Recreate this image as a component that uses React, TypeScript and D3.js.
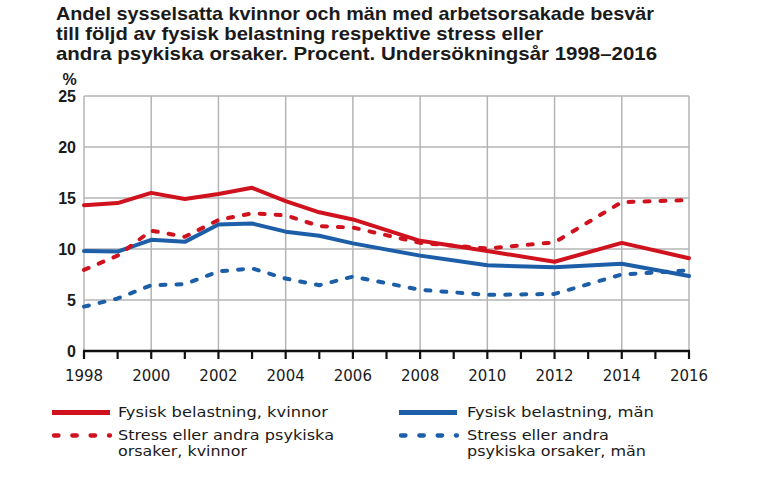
import React from "react";
import * as d3 from "d3";

const titleLines = [
  "Andel sysselsatta kvinnor och män med arbetsorsakade besvär",
  "till följd av fysisk belastning respektive stress eller",
  "andra psykiska orsaker. Procent. Undersökningsår 1998–2016",
];
const titleWidths = [598, 487, 601];

const years = [1998, 1999, 2000, 2001, 2002, 2003, 2004, 2005, 2006, 2008, 2010, 2012, 2014, 2016];
const fysiskKvinnor = [14.3, 14.5, 15.5, 14.9, 15.4, 16.0, 14.7, 13.6, 12.9, 10.8, 9.8, 8.75, 10.6, 9.1];
const fysiskMan = [9.8, 9.75, 10.9, 10.7, 12.4, 12.5, 11.7, 11.3, 10.55, 9.35, 8.4, 8.2, 8.55, 7.35];
const stressKvinnor = [7.95, 9.35, 11.8, 11.2, 12.85, 13.5, 13.3, 12.25, 12.1, 10.6, 10.05, 10.65, 14.6, 14.8];
const stressMan = [4.35, 5.15, 6.45, 6.55, 7.8, 8.1, 7.1, 6.45, 7.3, 6.0, 5.5, 5.6, 7.5, 7.9];

const yTicks = [0, 5, 10, 15, 20, 25];
const xLabelYears = [1998, 2000, 2002, 2004, 2006, 2008, 2010, 2012, 2014, 2016];
const tickYears = d3.range(1998, 2017);

const RED = "#d0121e";
const BLUE = "#1c5ea8";

const series = [
  { name: "Fysisk belastning, kvinnor", values: fysiskKvinnor, color: RED, dashed: false },
  { name: "Fysisk belastning, män", values: fysiskMan, color: BLUE, dashed: false },
  { name: "Stress eller andra psykiska orsaker, kvinnor", values: stressKvinnor, color: RED, dashed: true },
  { name: "Stress eller andra psykiska orsaker, män", values: stressMan, color: BLUE, dashed: true },
];

const legendItems = [
  { lines: ["Fysisk belastning, kvinnor"], widths: [210], color: RED, dashed: false, col: 0, row: 0 },
  { lines: ["Fysisk belastning, män"], widths: [187], color: BLUE, dashed: false, col: 1, row: 0 },
  { lines: ["Stress eller andra psykiska", "orsaker, kvinnor"], widths: [216, 129], color: RED, dashed: true, col: 0, row: 1 },
  { lines: ["Stress eller andra", "psykiska orsaker, män"], widths: [142, 179], color: BLUE, dashed: true, col: 1, row: 1 },
];

export default function App() {
  const W = 765, H = 493;
  const x = d3.scaleLinear().domain([1998, 2016]).range([84, 689]);
  const y = d3.scaleLinear().domain([0, 25]).range([351, 96]);
  const font = "'Liberation Sans', Arial, sans-serif";
  const font2 = "'DejaVu Sans', Verdana, sans-serif";
  const textColor = "#1a1a1a";

  const line = (vals: number[]) =>
    d3.line<number>().x((_, i) => x(years[i])).y((v) => y(v))(vals) || "";

  const legendX = [52, 399];
  const legendTextX = [118, 467];
  const legendRowY = [412.5, 435.5];

  return (
    <svg width={W} height={H} style={{ position: "absolute", left: 0, top: 0, background: "#fff" }}>
      {titleLines.map((t, i) => (
        <text
          key={i}
          x={56}
          y={19.5 + i * 20.4}
          fontFamily={font}
          fontWeight="bold"
          fontSize={18.6}
          fill={textColor}
          textLength={titleWidths[i]}
          lengthAdjust="spacingAndGlyphs"
        >
          {t}
        </text>
      ))}
      <text x={69.5} y={85} fontFamily={font} fontWeight="bold" fontSize={16} fill={textColor} textAnchor="middle">
        %
      </text>

      {/* grid */}
      {yTicks.filter((t) => t > 0).map((t) => (
        <line key={"h" + t} x1={x(1998)} x2={x(2016)} y1={y(t)} y2={y(t)} stroke="#b4b4b4" strokeWidth={1.5} />
      ))}
      {xLabelYears.map((yr) => (
        <line key={"v" + yr} x1={x(yr)} x2={x(yr)} y1={y(25)} y2={y(0)} stroke="#b4b4b4" strokeWidth={1.5} />
      ))}

      {/* y labels */}
      {yTicks.map((t) => (
        <text
          key={"yl" + t}
          x={76}
          y={y(t)}
          dy="0.38em"
          textAnchor="end"
          fontFamily={font}
          fontWeight="bold"
          fontSize={16}
          fill={textColor}
        >
          {t}
        </text>
      ))}

      {/* series */}
      {series.map((s) => (
        <path
          key={s.name}
          d={line(s.values)}
          fill="none"
          stroke={s.color}
          strokeWidth={4}
          strokeLinecap="round"
          strokeLinejoin="round"
          strokeDasharray={s.dashed ? "5 11" : undefined}
        />
      ))}

      {/* x axis */}
      <line x1={x(1998) - 1} x2={x(2016) + 1} y1={y(0)} y2={y(0)} stroke="#111" strokeWidth={2.5} />
      {tickYears.map((yr) => (
        <line key={"t" + yr} x1={x(yr)} x2={x(yr)} y1={y(0)} y2={y(0) + 8} stroke="#111" strokeWidth={2.2} />
      ))}
      {xLabelYears.map((yr) => (
        <text
          key={"xl" + yr}
          x={x(yr)}
          y={381}
          textAnchor="middle"
          fontFamily={font2}
          fontSize={15}
          fill={textColor}
        >
          {yr}
        </text>
      ))}

      {/* legend */}
      {legendItems.map((it, i) => {
        const lx = legendX[it.col];
        const ly = legendRowY[it.row];
        return (
          <g key={"lg" + i}>
            <line
              x1={lx + (it.dashed ? 2 : 0)}
              x2={lx + 58}
              y1={ly}
              y2={ly}
              stroke={it.color}
              strokeWidth={it.dashed ? 4.3 : 5}
              strokeLinecap={it.dashed ? "round" : "butt"}
              strokeDasharray={it.dashed ? "4.5 13.8" : undefined}
            />
            {it.lines.map((l, j) => (
              <text
                key={j}
                x={legendTextX[it.col]}
                y={ly + 4.5 + j * 16}
                fontFamily={font2}
                fontSize={14.5}
                fill={textColor}
                textLength={it.widths[j]}
                lengthAdjust="spacingAndGlyphs"
              >
                {l}
              </text>
            ))}
          </g>
        );
      })}
    </svg>
  );
}
